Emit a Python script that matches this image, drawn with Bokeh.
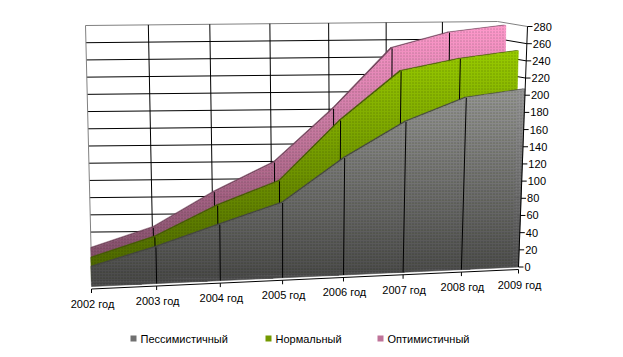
from bokeh.plotting import figure
from bokeh.embed import file_html
from bokeh.resources import INLINE

years = ["2002 год", "2003 год", "2004 год", "2005 год", "2006 год", "2007 год", "2008 год", "2009 год"]
pessimistic = [22, 42, 65, 87, 136, 175, 200, 207]
normal = [26, 48, 82, 108, 176, 231, 243, 250]
optimistic = [27, 50, 90, 123, 184, 253, 270, 277]
y_ticks = list(range(0, 281, 20))
series_names = ["Пессимистичный", "Нормальный", "Оптимистичный"]
series_top = [(150, 150, 150), (153, 204, 0), (255, 153, 204)]

W, H = 607, 349
p = figure(width=W, height=H, x_range=(0, W), y_range=(H, 0), toolbar_location=None,
           output_backend="svg", min_border=0, outline_line_color=None)
p.axis.visible = False
p.grid.visible = False

# projection of the 3D box (front plane, back wall)
F_BL, F_BR, F_TL, F_TR = (91, 286), (518, 266.5), (84, 45), (527, 26)
B_BL, B_BR, B_TL, B_TR = (91, 266), (495, 262), (85, 25), (497, 21)
K, VMAX, N = 0.926, 280.0, len(years) - 1

def tpos(i):
    u = i / N
    return u / (u + K * (1 - u)) if i else 0.0

def bil(bl, br, tl, tr, t, s):
    bx = bl[0] + (br[0] - bl[0]) * t; by = bl[1] + (br[1] - bl[1]) * t
    ux = tl[0] + (tr[0] - tl[0]) * t; uy = tl[1] + (tr[1] - tl[1]) * t
    return bx + (ux - bx) * s, by + (uy - by) * s

def P(i, v, d):
    t, s = tpos(i), v / VMAX
    f = bil(F_BL, F_BR, F_TL, F_TR, t, s)
    b = bil(B_BL, B_BR, B_TL, B_TR, t, s)
    return f[0] + (b[0] - f[0]) * d, f[1] + (b[1] - f[1]) * d

def seg(a, b, color="black", w=1.0):
    p.line([a[0], b[0]], [a[1], b[1]], line_color=color, line_width=w)

def clip(poly, y0, y1):
    def cut(pts, keep, yc):
        out = []
        for k in range(len(pts)):
            a, c = pts[k], pts[(k + 1) % len(pts)]
            ka, kc = keep(a[1]), keep(c[1])
            if ka:
                out.append(a)
            if ka != kc:
                r = (yc - a[1]) / (c[1] - a[1])
                out.append((a[0] + (c[0] - a[0]) * r, yc))
        return out
    pts = cut(poly, lambda y: y >= y0, y0)
    return cut(pts, lambda y: y <= y1, y1) if pts else pts

def hexc(rgb):
    return "#%02x%02x%02x" % tuple(int(round(c)) for c in rgb)

def gradient(poly, top):
    ys = [q[1] for q in poly]
    y0, y1 = min(ys), max(ys)
    xs_all, ys_all, cols = [], [], []
    y = y0
    while y < y1:
        b = clip(poly, y, y + 3)
        if len(b) > 2:
            f = 1 - 0.52 * ((y + 1.5 - y0) / (y1 - y0))
            xs_all.append([q[0] for q in b]); ys_all.append([q[1] for q in b])
            cols.append(hexc([c * f for c in top]))
        y += 3
    p.patches(xs_all, ys_all, fill_color=cols, line_color=cols, line_width=0.6)
    p.patch([q[0] for q in poly], [q[1] for q in poly], fill_alpha=0, line_color=None,
            hatch_pattern="dot", hatch_scale=3, hatch_color="black", hatch_alpha=0.22, hatch_weight=1)

# walls
GRAY = "#808080"
for v in y_ticks[1:]:
    c = GRAY if v == 280 else "black"
    seg(P(0, v, 1), P(N, v, 1), c)
    seg(P(N, v, 1), P(N, v, 0), c)
seg(P(0, 0, 1), P(0, 280, 1), GRAY)
for i in range(1, N):
    seg(P(i, 280, 1), P(i, 0, 1))

# series, from back to front
layers = [(optimistic, 0.72, 0.80, series_top[2]), (normal, 0.28, 0.36, series_top[1]), (pessimistic, 0.0, 0.08, series_top[0])]
for vals, d, d2, top in layers:
    dark = hexc([c * 0.45 for c in top])
    for i in range(N):
        q = [P(i, vals[i], d), P(i + 1, vals[i + 1], d), P(i + 1, vals[i + 1], d2), P(i, vals[i], d2)]
        p.patch([a[0] for a in q], [a[1] for a in q], fill_color=dark, line_color=dark, line_width=0.5)
    poly = [P(i, vals[i], d) for i in range(N + 1)] + [P(N, 0, d), P(0, 0, d)]
    gradient(poly, top)
    for i in range(1, N):
        seg(P(i, vals[i], d), P(i, 0, d))

# axes
base_off = 2.5
seg(P(N, 0, 0), P(N, 280, 0), "black")
for v in y_ticks:
    a = P(N, v, 0)
    seg(a, (a[0] + 5, a[1]))
    p.text([a[0] + 6], [a[1]], text=[str(v)], text_font_size="11px", text_font={"value": "Liberation Sans"},
           text_baseline="middle", text_align="left", text_color="black")
seg((F_BL[0], F_BL[1] + base_off), (F_BR[0], F_BR[1] + base_off))
for i, y in enumerate(years):
    a = P(i, 0, 0)
    a = (a[0], a[1] + base_off)
    seg(a, (a[0], a[1] + 4))
    p.text([a[0] + 1], [a[1] + 15], text=[y], text_font_size="11px", text_font={"value": "Liberation Sans"},
           text_baseline="middle", text_align="center", text_color="black")

# legend
leg_x = [130, 265, 377]
for x, name, top in zip(leg_x, series_names, series_top):
    c = hexc([k * 0.75 for k in top])
    p.quad(left=[x], right=[x + 6], top=[335], bottom=[341], fill_color=c, line_color=None)
    p.text([x + 10], [338], text=[name], text_font_size="11px", text_font={"value": "Liberation Sans"},
           text_baseline="middle", text_align="left", text_color="black")

open("out.html", "w").write(file_html(p, INLINE))
